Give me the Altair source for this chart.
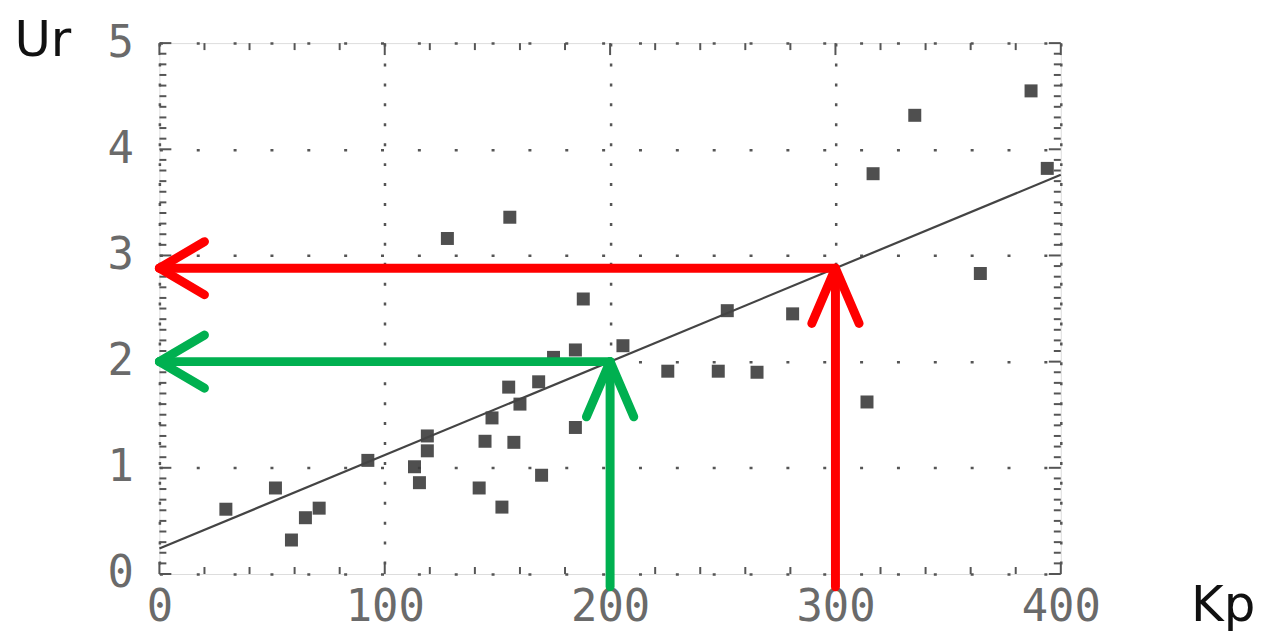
import altair as alt
import pandas as pd

# scatter data (Kp, Ur)
kp = [29.5, 51.5, 58.6, 64.8, 70.9, 92.5, 113.2, 115.4, 118.9, 118.9, 127.8, 141.9,
      144.5, 147.6, 152.0, 155.0, 155.5, 157.3, 160.0, 168.3, 169.6, 174.9, 184.6, 184.6,
      188.1, 205.7, 225.6, 248.0, 252.0, 265.2, 281.0, 314.0, 316.7, 335.2, 364.3,
      386.8, 394.0]
ur = [0.61, 0.81, 0.32, 0.53, 0.62, 1.07, 1.01, 0.86, 1.16, 1.30, 3.16, 0.81,
      1.25, 1.47, 0.63, 1.76, 3.36, 1.24, 1.60, 1.81, 0.93, 2.04, 1.38, 2.11,
      2.59, 2.15, 1.91, 1.91, 2.48, 1.90, 2.45, 1.62, 3.77, 4.32, 2.83,
      4.55, 3.82]

# regression line
line_kp = [0, 400]
line_ur = [0.24, 3.76]

# reading arrows
arrow_kp = [200, 300]
arrow_ur = [2.0, 2.88]
arrow_color = ["#00b050", "#ff0000"]

x_labels = [0, 100, 200, 300, 400]
y_labels = [0, 1, 2, 3, 4, 5]

W, H = 905, 533
FONT = "DejaVu Sans Mono"

xs = alt.Scale(domain=[0, 400], nice=False, zero=False)
ys = alt.Scale(domain=[0, 5], nice=False, zero=False)

pts = pd.DataFrame({"Kp": kp, "Ur": ur})
base_x = alt.X("Kp:Q", scale=xs,
               axis=alt.Axis(values=x_labels, title=None, ticks=False, domain=False, format="d",
                             labelFont=FONT, labelFontSize=44, labelColor="#6a6a6a",
                             labelPadding=12, grid=True, gridDash=[3, 17],
                             gridColor="#555", gridWidth=2.5, labelFlush=False))
base_y = alt.Y("Ur:Q", scale=ys,
               axis=alt.Axis(values=y_labels, title=None, ticks=False, domain=False, format="d",
                             labelFont=FONT, labelFontSize=44, labelColor="#6a6a6a",
                             labelPadding=26, grid=True, gridDash=[3, 34],
                             gridColor="#555", gridWidth=2.5, labelFlush=False))

points = alt.Chart(pts).mark_point(shape="square", filled=True, size=170,
                                   color="#3c3c3c", opacity=0.9).encode(x=base_x, y=base_y)

line = alt.Chart(pd.DataFrame({"Kp": line_kp, "Ur": line_ur})).mark_line(
    color="#444", strokeWidth=2.2).encode(x=alt.X("Kp:Q", scale=xs), y=alt.Y("Ur:Q", scale=ys))

# minor / major frame ticks (inward on all four sides)
xt = pd.DataFrame({"v": list(range(0, 401, 20))})
xt["len"] = [12 if v % 100 == 0 else 7 for v in xt["v"]]
yt = pd.DataFrame({"v": [round(i * 0.1, 1) for i in range(51)]})
yt["len"] = [12 if abs(v - round(v)) < 1e-9 else 7 for v in yt["v"]]

tick_style = dict(color="#555", strokeWidth=2)
ticks = []
for L in (12, 7):
    xd = xt[xt["len"] == L]
    yd = yt[yt["len"] == L]
    ticks.append(alt.Chart(xd).mark_rule(**tick_style).encode(
        x=alt.X("v:Q", scale=xs), y=alt.value(H), y2=alt.value(H - L)))
    ticks.append(alt.Chart(xd).mark_rule(**tick_style).encode(
        x=alt.X("v:Q", scale=xs), y=alt.value(0), y2=alt.value(L)))
    ticks.append(alt.Chart(yd).mark_rule(**tick_style).encode(
        y=alt.Y("v:Q", scale=ys), x=alt.value(0), x2=alt.value(L)))
    ticks.append(alt.Chart(yd).mark_rule(**tick_style).encode(
        y=alt.Y("v:Q", scale=ys), x=alt.value(W), x2=alt.value(W - L)))

# arrows
segs = []
for k, u, c in zip(arrow_kp, arrow_ur, arrow_color):
    segs.append(dict(x=k, x2=k, y=-0.12, y2=u, c=c))
    segs.append(dict(x=k, x2=0, y=u, y2=u, c=c))
    segs.append(dict(x=k, x2=k - 10.5, y=u, y2=u - 0.52, c=c))
    segs.append(dict(x=k, x2=k + 10.5, y=u, y2=u - 0.52, c=c))
    segs.append(dict(x=0, x2=20, y=u, y2=u + 0.25, c=c))
    segs.append(dict(x=0, x2=20, y=u, y2=u - 0.25, c=c))
arrows = alt.Chart(pd.DataFrame(segs)).mark_rule(strokeWidth=9, strokeCap="round").encode(
    x=alt.X("x:Q", scale=xs), x2="x2:Q",
    y=alt.Y("y:Q", scale=ys), y2="y2:Q",
    color=alt.Color("c:N", scale=None, legend=None))

ur_txt = alt.Chart(pd.DataFrame({"t": ["Ur"]})).mark_text(
    font="DejaVu Sans", fontSize=50, color="#111", align="center", baseline="middle").encode(
    text="t:N", x=alt.value(-117), y=alt.value(-2))
kp_txt = alt.Chart(pd.DataFrame({"t": ["Kp"]})).mark_text(
    font="DejaVu Sans", fontSize=50, color="#111", align="center", baseline="middle").encode(
    text="t:N", x=alt.value(1068), y=alt.value(565))

chart = alt.layer(points, line, *ticks, arrows, ur_txt, kp_txt).properties(
    width=W, height=H,
    autosize=alt.AutoSizeParams(type="none"),
    padding={"left": 152, "top": 34, "right": 200, "bottom": 58},
).configure_view(stroke="#555", strokeWidth=2.5).configure(background="white")

chart.save("out.html", embed_options={"renderer": "svg", "actions": False})
